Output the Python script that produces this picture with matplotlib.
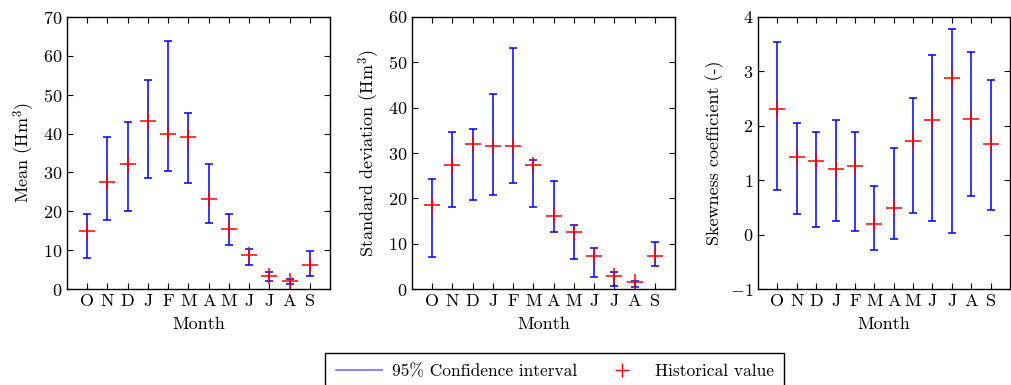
import matplotlib
matplotlib.use("Agg")
import matplotlib.pyplot as plt
from matplotlib.lines import Line2D
import numpy as np

plt.rcParams['font.family'] = 'serif'
plt.rcParams['font.serif'] = ['cmr10']
plt.rcParams['mathtext.fontset'] = 'cm'
plt.rcParams['axes.formatter.use_mathtext'] = True
plt.rcParams['font.size'] = 13

months = ['O', 'N', 'D', 'J', 'F', 'M', 'A', 'M', 'J', 'J', 'A', 'S']

# mean (Hm3)
mean_hist = [14.9, 27.6, 32.1, 43.3, 40.0, 39.1, 23.3, 15.4, 8.9, 3.3, 2.0, 6.3]
mean_low = [7.9, 17.8, 20.1, 28.7, 30.3, 27.3, 17.0, 11.3, 6.1, 2.2, 1.4, 3.4]
mean_high = [19.2, 39.1, 43.1, 53.9, 63.8, 45.3, 32.1, 19.3, 10.2, 4.3, 2.6, 9.7]

# standard deviation (Hm3)
std_hist = [18.6, 27.4, 32.0, 31.5, 31.6, 27.3, 16.2, 12.6, 7.3, 2.9, 1.5, 7.4]
std_low = [7.0, 18.2, 19.7, 20.7, 23.5, 18.2, 12.7, 6.6, 2.6, 0.7, 0.5, 5.1]
std_high = [24.3, 34.6, 35.2, 43.1, 53.1, 28.4, 23.9, 14.1, 9.0, 3.8, 1.8, 10.5]

# skewness coefficient (-)
skew_hist = [2.30, 1.43, 1.36, 1.21, 1.26, 0.19, 0.49, 1.73, 2.11, 2.87, 2.13, 1.67]
skew_low = [0.83, 0.38, 0.15, 0.25, 0.06, -0.28, -0.07, 0.39, 0.26, 0.04, 0.71, 0.46]
skew_high = [3.54, 2.06, 1.88, 2.10, 1.88, 0.89, 1.59, 2.51, 3.30, 3.77, 3.35, 2.85]

panels = [
    (mean_hist, mean_low, mean_high, 'Mean (Hm$^3$)', (0, 70), [0, 10, 20, 30, 40, 50, 60, 70]),
    (std_hist, std_low, std_high, 'Standard deviation (Hm$^3$)', (0, 60), [0, 10, 20, 30, 40, 50, 60]),
    (skew_hist, skew_low, skew_high, 'Skewness coefficient (-)', (-1, 4), [-1, 0, 1, 2, 3, 4]),
]

fig = plt.figure(figsize=(10.12, 3.85), dpi=100)
rects = [[0.0662, 0.249, 0.260, 0.707],
         [0.407, 0.249, 0.260, 0.707],
         [0.749, 0.249, 0.249, 0.707]]

x = np.arange(1, 13)
for rect, (hist, low, high, ylab, ylim, yt) in zip(rects, panels):
    ax = fig.add_axes(rect)
    hist = np.array(hist)
    err = [hist - np.array(low), np.array(high) - hist]
    ax.errorbar(x, hist, yerr=err, fmt='none', ecolor='blue', elinewidth=1.1,
                capsize=3, capthick=1.1)
    ax.plot(x, hist, '+', color='red', markersize=12, markeredgewidth=1.1)
    ax.set_xlim(0, 13)
    ax.set_ylim(*ylim)
    ax.set_yticks(yt)
    ax.set_xticks(x)
    ax.set_xticklabels(months)
    ax.set_xlabel('Month', labelpad=5)
    ax.set_ylabel(ylab)
    ax.tick_params(direction='in', top=True, right=True, length=4)
    for s in ax.spines.values():
        s.set_linewidth(1.0)

handles = [Line2D([], [], color='blue', alpha=0.55, lw=1.2),
           Line2D([], [], ls='none', marker='+', color='red', markersize=10, markeredgewidth=1.0)]
leg = fig.legend(handles, ['95% Confidence interval', 'Historical value'], ncol=2,
                 loc='upper center', bbox_to_anchor=(0.548, 0.083), borderaxespad=0,
                 fontsize=12.5, frameon=True, fancybox=False, edgecolor='black', framealpha=1,
                 handlelength=2.65, handletextpad=0.57, columnspacing=1.26, borderpad=0.6)
leg.get_frame().set_linewidth(1.0)

fig.savefig('out.png', dpi=100)
